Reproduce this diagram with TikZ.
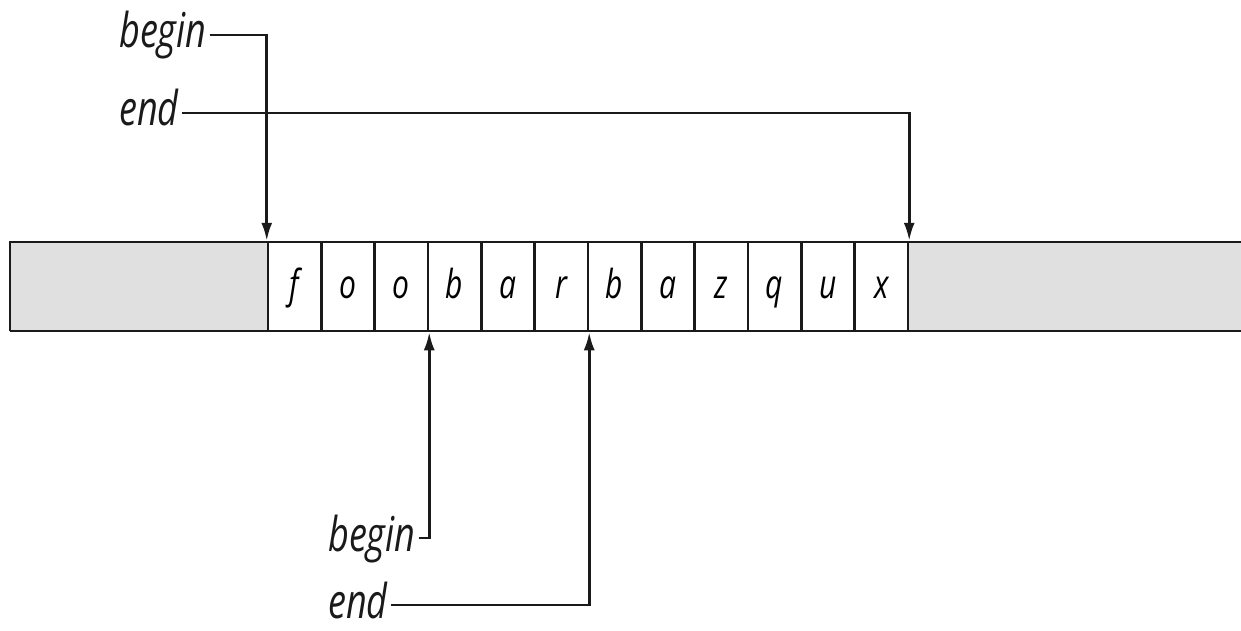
\documentclass[tikz,border=0pt]{standalone}
\usepackage{fontspec}
\usetikzlibrary{positioning,arrows.meta}
\newfontfamily\handfont[FakeStretch=0.75]{Open Sans}
\definecolor{ink}{HTML}{1A1A1A}
\definecolor{spare}{HTML}{E0E0E0}

\tikzset{
  cell/.style={draw=ink, line width=2.5pt, minimum width=53.33pt, minimum height=89pt,
               inner sep=0pt, text height=30pt, text depth=7pt,
               font=\handfont\itshape\fontsize{40}{42}\selectfont},
  tag/.style={inner xsep=3pt, inner ysep=0pt, text height=30pt, text depth=4pt, text=ink,
              font=\handfont\itshape\fontsize{48}{50}\selectfont},
  ptr/.style={draw=ink, line width=2.6pt, -{Latex[length=18pt,width=11pt]}}
}

\begin{document}
\begin{tikzpicture}[x=1pt,y=-1pt]
  \useasboundingbox (0,0) rectangle (1241,631);

  % the buffer
  \fill[spare] (10,242) rectangle (268,331);
  \fill[spare] (908,242) rectangle (1250,331);
  \draw[ink, line width=2.5pt] (10,331) -- (10,242) -- (1250,242);
  \draw[ink, line width=2.5pt] (10,331) -- (1250,331);
  \foreach \ch [count=\i] in {f,o,o,b,a,r,b,a,z,q,u,x}
    \node[cell] (c\i) at ({268+(\i-0.5)*53.33},286.5) {\ch};

  % outer range
  \node[tag, anchor=west] (beginOut) at (116,35) {begin};
  \node[tag, anchor=west] (endOut) at (116,113) {end};
  \draw[ptr] (beginOut.east) -| (c1.north west);
  \draw[ptr] (endOut.east) -| (c12.north east);

  % inner range
  \node[tag, anchor=west] (beginIn) at (325,538) {begin};
  \node[tag, anchor=west] (endIn) at (325,605) {end};
  \draw[ptr] (beginIn.east) -| (c3.south east);
  \draw[ptr] (endIn.east) -| (c6.south east);
\end{tikzpicture}
\end{document}
